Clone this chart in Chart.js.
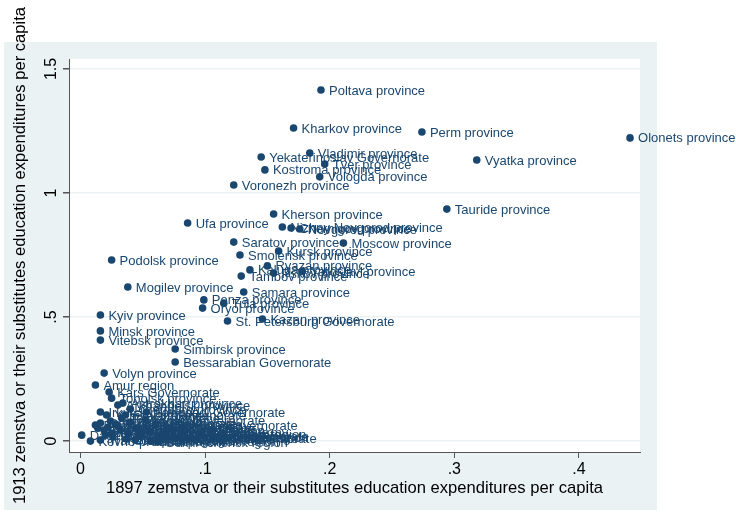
<!DOCTYPE html>
<html>
<head>
<meta charset="utf-8">
<script src="https://cdn.jsdelivr.net/npm/chart.js@4"></script>
<style>
html, body { margin: 0; padding: 0; background: #fff; }
</style>
</head>
<body>
<canvas id="zemstvoChart" width="736" height="515"></canvas>
<script>
// Province names, 1897 and 1913 education spending per capita
const provinces = [
    'Poltava province', 'Kharkov province', 'Perm province', 'Olonets province',
    'Vladimir province', 'Yekaterinoslav Governorate', 'Tver province', 'Vyatka province',
    'Kostroma province', 'Vologda province', 'Voronezh province', 'Tauride province',
    'Kherson province', 'Ufa province', 'Nizhny Novgorod province', 'Chernigov province',
    'Novgorod province', 'Saratov province', 'Moscow province', 'Kursk province',
    'Smolensk province', 'Podolsk province', 'Ryazan province', 'Kaluga province',
    'Pskov province', 'Yaroslavl province', 'Tambov province', 'Mogilev province',
    'Samara province', 'Penza province', 'Tula province', 'Oryol province',
    'St. Petersburg Governorate', 'Kazan province', 'Kyiv province', 'Minsk province',
    'Vitebsk province', 'Simbirsk province', 'Bessarabian Governorate', 'Volyn province',
    'Amur region', 'Kars Governorate', 'Tobolsk province', 'Arkhangelsk province',
    'Astrakhan province', 'Stavropol Governorate', 'Orenburg province', 'Irkutsk province',
    'Yenisei province', 'Tomsk province', 'Courland Governorate', 'Livonia Governorate',
    'Estland Governorate', 'Vilna province', 'Grodno province', 'Warsaw Governorate',
    'Kalisz Governorate', 'Kielce Governorate', 'Lomza Governorate', 'Lublin Governorate',
    'Piotrkow Governorate', 'Plock Governorate', 'Radom Governorate', 'Suwalki Governorate',
    'Siedlce Governorate', 'Region of the Don Army', 'Dagestan region', 'Kovno province',
    'Semirechensk region', 'Turgai region', 'Baku Governorate', 'Elisavetpol Governorate',
    'Tiflis Governorate', 'Kutais Governorate', 'Erivan Governorate', 'Black Sea Governorate',
    'Kuban region', 'Terek region', 'Akmolinsk region', 'Semipalatinsk region',
    'Syr-Darya region', 'Fergana region', 'Samarkand region', 'Ural region',
    'Yakutsk region', 'Transbaikal region', 'Primorye region', 'Transcaspian region'
];

const exp1897 = [
    0.193, 0.171, 0.274, 0.441,
    0.184, 0.145, 0.196, 0.318,
    0.148, 0.192, 0.123, 0.294,
    0.155, 0.086, 0.162, 0.169,
    0.176, 0.123, 0.211, 0.159,
    0.128, 0.025, 0.150, 0.136,
    0.155, 0.178, 0.129, 0.038,
    0.131, 0.099, 0.115, 0.098,
    0.118, 0.146, 0.016, 0.016,
    0.016, 0.076, 0.076, 0.019,
    0.012, 0.023, 0.025, 0.030,
    0.034, 0.053, 0.040, 0.016,
    0.021, 0.033, 0.016, 0.022,
    0.028, 0.019, 0.025, 0.032,
    0.038, 0.044, 0.048, 0.056,
    0.062, 0.068, 0.074, 0.080,
    0.088, 0.049, 0.001, 0.008,
    0.062, 0.115, 0.026, 0.037,
    0.064, 0.052, 0.036, 0.060,
    0.072, 0.084, 0.044, 0.056,
    0.096, 0.024, 0.030, 0.040,
    0.014, 0.020, 0.012, 0.016
];

const exp1913 = [
    1.415, 1.262, 1.246, 1.222,
    1.161, 1.145, 1.117, 1.133,
    1.093, 1.065, 1.032, 0.935,
    0.915, 0.879, 0.863, 0.859,
    0.855, 0.802, 0.798, 0.766,
    0.750, 0.730, 0.706, 0.690,
    0.677, 0.685, 0.665, 0.621,
    0.601, 0.569, 0.556, 0.536,
    0.484, 0.492, 0.508, 0.444,
    0.407, 0.371, 0.319, 0.274,
    0.226, 0.198, 0.173, 0.145,
    0.153, 0.117, 0.129, 0.117,
    0.105, 0.093, 0.073, 0.056,
    0.069, 0.044, 0.032, 0.044,
    0.032, 0.052, 0.020, 0.036,
    0.016, 0.028, 0.012, 0.020,
    0.012, 0.036, 0.024, 0.000,
    -0.004, 0.016, 0.016, 0.008,
    0.016, 0.085, 0.105, 0.065,
    0.052, 0.044, 0.004, 0.000,
    0.028, 0.081, 0.060, 0.077,
    0.052, 0.024, 0.065, 0.004
];

const xTicks = [0, 0.1, 0.2, 0.3, 0.4];
const yTicks = [0, 0.5, 1, 1.5];

const navy = '#1a476f';
const bgColor = '#eaf2f3';
const axisColor = '#555555';
const fontFamily = '"Liberation Sans", Arial, Helvetica, sans-serif';

Chart.defaults.font.family = fontFamily;

function trimZero(v) {
    return v === 0 ? '0' : String(v).replace(/^0\./, '.');
}

// graph region background, white plot area, rotated y tick labels and point labels
const stataLook = {
    id: 'stataLook',
    beforeDraw(chart) {
        const { ctx, chartArea } = chart;
        ctx.save();
        ctx.fillStyle = bgColor;
        ctx.fillRect(4, 42, 653, 468);
        ctx.fillStyle = '#ffffff';
        ctx.fillRect(chartArea.left, chartArea.top, chartArea.right - chartArea.left, chartArea.bottom - chartArea.top);
        ctx.restore();
    },
    afterDatasetsDraw(chart) {
        const { ctx } = chart;
        const meta = chart.getDatasetMeta(0);
        ctx.save();
        ctx.font = '13px ' + fontFamily;
        ctx.fillStyle = navy;
        ctx.textAlign = 'left';
        ctx.textBaseline = 'middle';
        meta.data.forEach((pt, i) => {
            ctx.fillText(provinces[i], pt.x + 8, pt.y + 1);
        });
        ctx.restore();
    },
    afterDraw(chart) {
        const { ctx } = chart;
        const yScale = chart.scales.y;
        ctx.save();
        ctx.font = '16px ' + fontFamily;
        ctx.fillStyle = '#000';
        ctx.textAlign = 'center';
        ctx.textBaseline = 'middle';
        yScale.ticks.forEach(t => {
            const py = yScale.getPixelForValue(t.value);
            ctx.save();
            ctx.translate(52, py);
            ctx.rotate(-Math.PI / 2);
            ctx.fillText(trimZero(t.value), 0, 0);
            ctx.restore();
        });
        ctx.restore();
    }
};

const points = provinces.map((name, i) => ({ x: exp1897[i], y: exp1913[i] }));

const ctx = document.getElementById('zemstvoChart').getContext('2d');

new Chart(ctx, {
    type: 'scatter',
    data: {
        datasets: [{
            data: points,
            backgroundColor: navy,
            borderColor: navy,
            borderWidth: 0,
            pointRadius: 3.8,
            clip: false
        }]
    },
    options: {
        responsive: false,
        animation: false,
        layout: { padding: { left: 0, right: 96, top: 59, bottom: 0 } },
        plugins: {
            legend: { display: false },
            tooltip: { enabled: false }
        },
        scales: {
            x: {
                type: 'linear',
                min: -0.0092,
                max: 0.449,
                afterBuildTicks: s => { s.ticks = xTicks.map(v => ({ value: v })); },
                afterFit: s => { s.height = 63; },
                ticks: {
                    callback: v => trimZero(v),
                    font: { size: 16 },
                    color: '#000',
                    padding: 2,
                    maxRotation: 0
                },
                grid: {
                    drawOnChartArea: false,
                    tickLength: 6,
                    tickColor: axisColor
                },
                border: { color: axisColor, width: 1 },
                title: {
                    display: true,
                    text: '1897 zemstva or their substitutes education expenditures per capita',
                    font: { size: 16.6 },
                    color: '#000',
                    padding: { top: 0, bottom: 17 }
                }
            },
            y: {
                type: 'linear',
                min: -0.044,
                max: 1.540,
                afterBuildTicks: s => { s.ticks = yTicks.map(v => ({ value: v })); },
                afterFit: s => { s.width = 69; },
                ticks: { display: false },
                grid: {
                    color: bgColor,
                    lineWidth: 1.5,
                    tickLength: 6,
                    tickColor: axisColor
                },
                border: { color: axisColor, width: 1 },
                title: {
                    display: true,
                    text: '1913 zemstva or their substitutes education expenditures per capita',
                    font: { size: 16.6 },
                    color: '#000',
                    padding: { top: 10, bottom: 0 }
                }
            }
        }
    },
    plugins: [stataLook]
});
</script>
</body>
</html>
